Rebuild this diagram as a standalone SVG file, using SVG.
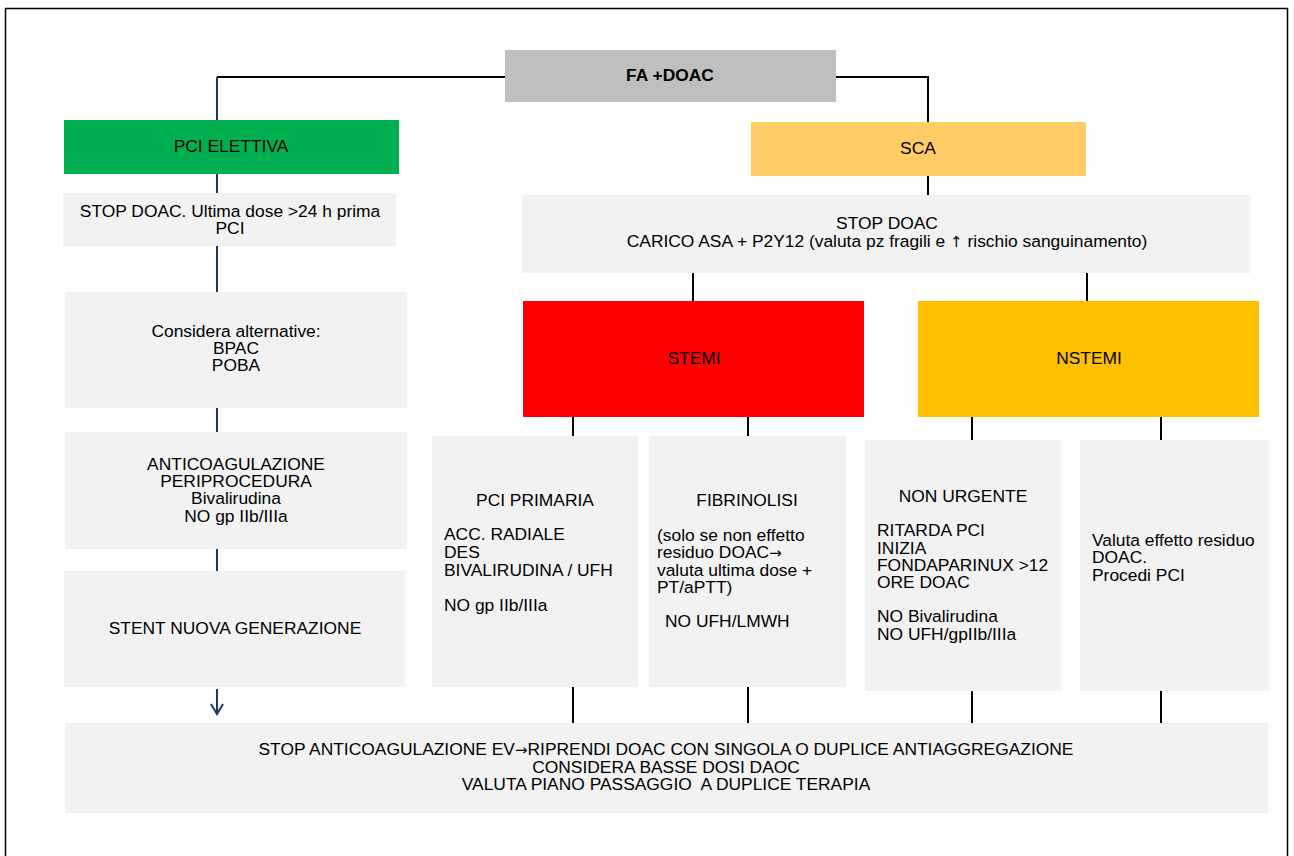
<svg xmlns="http://www.w3.org/2000/svg" width="1294" height="856" viewBox="0 0 1294 856">
<style>
text{font-family:"Liberation Sans",Arial,sans-serif;font-size:17.4px;fill:#000;white-space:pre}
.c{text-anchor:middle}
.ar{font-family:"DejaVu Sans",sans-serif;font-size:15px}
.box{fill:#F2F2F2}
.nv{stroke:#1F3864;stroke-width:2;fill:none}
.bk{stroke:#000;stroke-width:2;fill:none}
</style>
<rect x="0" y="0" width="1294" height="856" fill="#fff"/>
<rect x="5.5" y="8.5" width="1282" height="860" fill="none" stroke="#000" stroke-width="1.5"/>
<g id="connectors">
<polyline class="bk" points="505,77 217,77"/>
<line class="nv" x1="217" y1="77" x2="217" y2="120"/>
<polyline class="bk" points="836,77 928,77 928,122"/>
<line class="nv" x1="217" y1="174" x2="217" y2="193"/>
<line class="nv" x1="217" y1="246" x2="217" y2="292"/>
<line class="nv" x1="217" y1="408" x2="217" y2="432"/>
<line class="nv" x1="217" y1="549" x2="217" y2="571"/>
<line class="nv" x1="217" y1="689" x2="217" y2="714"/>
<polyline class="nv" points="211,704 217,714 223,704" stroke-width="1.6"/>
<line class="bk" x1="928" y1="176" x2="928" y2="195"/>
<line class="bk" x1="693" y1="273" x2="693" y2="301"/>
<line class="bk" x1="1087" y1="273" x2="1087" y2="301"/>
<line class="bk" x1="573" y1="417" x2="573" y2="436"/>
<line class="bk" x1="748" y1="417" x2="748" y2="436"/>
<line class="bk" x1="972" y1="417" x2="972" y2="440"/>
<line class="bk" x1="1161" y1="417" x2="1161" y2="440"/>
<line class="bk" x1="573" y1="687" x2="573" y2="723"/>
<line class="bk" x1="748" y1="687" x2="748" y2="723"/>
<line class="bk" x1="972" y1="691" x2="972" y2="723"/>
<line class="bk" x1="1161" y1="691" x2="1161" y2="723"/>
</g>
<g id="fa-doac">
<rect x="505" y="50" width="331" height="52" fill="#BFBFBF"/>
<text x="670" y="81" class="c" font-weight="bold">FA +DOAC</text>
</g>
<g id="pci-elettiva">
<rect x="64" y="120" width="335" height="54" fill="#00B050"/>
<text x="231" y="152" class="c">PCI ELETTIVA</text>
</g>
<g id="sca">
<rect x="751" y="122" width="335" height="54" fill="#FFCC66"/>
<text x="918" y="154" class="c">SCA</text>
</g>
<g id="stop-doac-left">
<rect class="box" x="63" y="193" width="333" height="53"/>
<text x="230" y="217" class="c">STOP DOAC. Ultima dose &gt;24 h prima</text>
<text x="230" y="234" class="c">PCI</text>
</g>
<g id="considera">
<rect class="box" x="65" y="292" width="342" height="116"/>
<text x="236" y="337" class="c">Considera alternative:</text>
<text x="236" y="354" class="c">BPAC</text>
<text x="236" y="371" class="c">POBA</text>
</g>
<g id="anticoag">
<rect class="box" x="65" y="432" width="342" height="117"/>
<text x="236" y="470" class="c">ANTICOAGULAZIONE</text>
<text x="236" y="487" class="c">PERIPROCEDURA</text>
<text x="236" y="504" class="c">Bivalirudina</text>
<text x="236" y="522" class="c">NO gp IIb/IIIa</text>
</g>
<g id="stent">
<rect class="box" x="64" y="571" width="341" height="116"/>
<text x="235" y="634" class="c">STENT NUOVA GENERAZIONE</text>
</g>
<g id="stop-doac-sca">
<rect class="box" x="522" y="195" width="729" height="78"/>
<text x="887" y="229" class="c">STOP DOAC</text>
<text x="887" y="247" class="c">CARICO ASA + P2Y12 (valuta pz fragili e <tspan class="ar">↑</tspan> rischio sanguinamento)</text>
</g>
<g id="stemi">
<rect x="523" y="301" width="341" height="116" fill="#FF0000"/>
<text x="694" y="364" class="c">STEMI</text>
</g>
<g id="nstemi">
<rect x="918" y="301" width="341" height="116" fill="#FFC000"/>
<text x="1089" y="364" class="c">NSTEMI</text>
</g>
<g id="pci-primaria">
<rect class="box" x="432" y="436" width="206" height="251"/>
<text x="535" y="506" class="c">PCI PRIMARIA</text>
<text x="444" y="540">ACC. RADIALE</text>
<text x="444" y="558">DES</text>
<text x="444" y="576">BIVALIRUDINA / UFH</text>
<text x="444" y="611">NO gp IIb/IIIa</text>
</g>
<g id="fibrinolisi">
<rect class="box" x="649" y="436" width="197" height="251"/>
<text x="747" y="506" class="c">FIBRINOLISI</text>
<text x="657" y="541">(solo se non effetto</text>
<text x="657" y="558">residuo DOAC<tspan class="ar">→</tspan></text>
<text x="657" y="576">valuta ultima dose +</text>
<text x="657" y="593">PT/aPTT)</text>
<text x="665" y="627">NO UFH/LMWH</text>
</g>
<g id="non-urgente">
<rect class="box" x="865" y="440" width="196" height="251"/>
<text x="963" y="502" class="c">NON URGENTE</text>
<text x="877" y="536">RITARDA PCI</text>
<text x="877" y="554">INIZIA</text>
<text x="877" y="571">FONDAPARINUX &gt;12</text>
<text x="877" y="588">ORE DOAC</text>
<text x="877" y="622">NO Bivalirudina</text>
<text x="877" y="640">NO UFH/gpIIb/IIIa</text>
</g>
<g id="valuta">
<rect class="box" x="1080" y="440" width="189" height="251"/>
<text x="1092" y="546">Valuta effetto residuo</text>
<text x="1092" y="563">DOAC.</text>
<text x="1092" y="581">Procedi PCI</text>
</g>
<g id="stop-anticoag">
<rect class="box" x="65" y="723" width="1203" height="90"/>
<text x="666" y="755" class="c">STOP ANTICOAGULAZIONE EV<tspan class="ar">→</tspan>RIPRENDI DOAC CON SINGOLA O DUPLICE ANTIAGGREGAZIONE</text>
<text x="666" y="773" class="c">CONSIDERA BASSE DOSI DAOC</text>
<text x="666" y="790" class="c">VALUTA PIANO PASSAGGIO  A DUPLICE TERAPIA</text>
</g>
</svg>
